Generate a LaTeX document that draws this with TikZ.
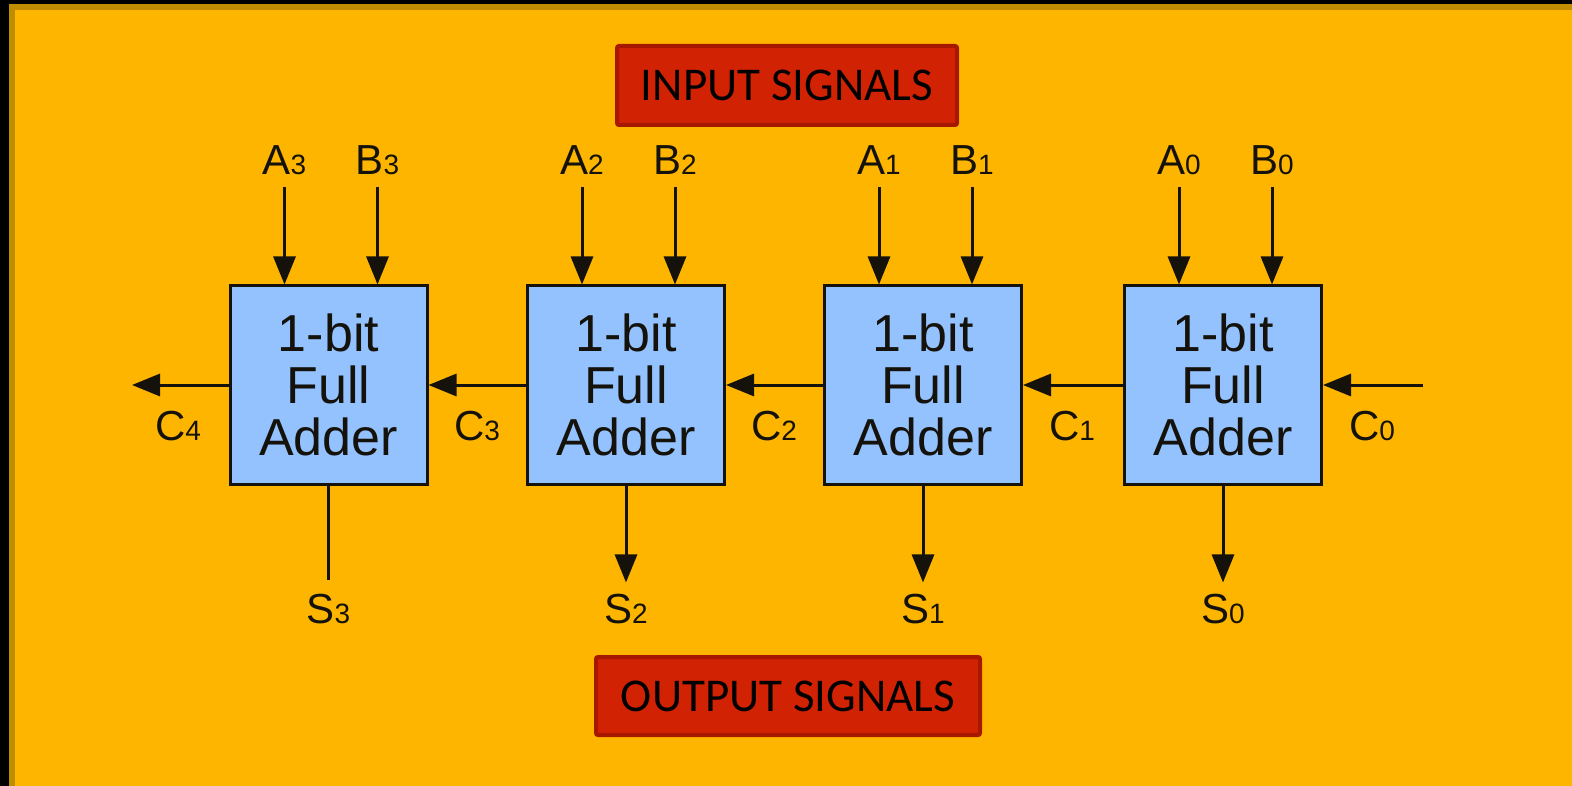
\documentclass[tikz,border=0pt]{standalone}
\usepackage{fontspec}
\setmainfont{Liberation Sans}
\newfontfamily\cali{Carlito}
\usetikzlibrary{arrows.meta}
\definecolor{bgorange}{RGB}{253,181,0}
\definecolor{bgedge}{RGB}{192,140,0}
\definecolor{redfill}{RGB}{210,34,4}
\definecolor{rededge}{RGB}{166,24,0}
\definecolor{adderblue}{RGB}{148,194,255}
\definecolor{ink}{RGB}{20,18,10}
\newcommand\sbs[1]{{\fontsize{28}{28}\selectfont #1}}
\tikzset{
  adder/.style={draw=ink, line width=3pt, fill=adderblue, minimum width=197pt, minimum height=198pt,
    inner sep=0pt, align=center, font=\fontsize{52}{52}\selectfont, text=ink},
  sig/.style={inner sep=0pt, anchor=base, font=\fontsize{42}{42}\selectfont, text=ink},
  wire/.style={draw=ink, line width=3pt},
  arr/.style={wire, -{Triangle[length=28pt,width=22pt]}},
  redbox/.style={draw=rededge, line width=4pt, fill=redfill, rounded corners=2pt, inner sep=0pt,
    font=\cali\fontsize{47}{47}\selectfont, text=black}
}
\begin{document}
\begin{tikzpicture}[x=1pt,y=-1pt]
\useasboundingbox (0,0) rectangle (1572,786);
\clip (0,0) rectangle (1572,786);
\fill[black] (0,0) rectangle (1572,786);
\draw[bgedge, line width=6pt, fill=bgorange] (12,7) rectangle (1600,820);

% title boxes
\node[redbox, minimum width=340pt, minimum height=79pt] (inp) at (787,85.5) {INPUT SIGNALS};
\node[redbox, minimum width=384pt, minimum height=78pt] (outp) at (788,696) {OUTPUT SIGNALS};

% adders
\node[adder] (fa3) at (328.5,385) {1-bit\\Full\\Adder};
\node[adder] (fa2) at (626,385) {1-bit\\Full\\Adder};
\node[adder] (fa1) at (923,385) {1-bit\\Full\\Adder};
\node[adder] (fa0) at (1223,385) {1-bit\\Full\\Adder};

% input labels
\node[sig] (a3) at (284.5,175) {A\sbs{3}};
\node[sig] (b3) at (377.5,175) {B\sbs{3}};
\node[sig] (a2) at (582,175) {A\sbs{2}};
\node[sig] (b2) at (675,175) {B\sbs{2}};
\node[sig] (a1) at (879,175) {A\sbs{1}};
\node[sig] (b1) at (972,175) {B\sbs{1}};
\node[sig] (a0) at (1179,175) {A\sbs{0}};
\node[sig] (b0) at (1272,175) {B\sbs{0}};

\foreach \l/\f in {a3/fa3,b3/fa3,a2/fa2,b2/fa2,a1/fa1,b1/fa1,a0/fa0,b0/fa0}
  \draw[arr] ([yshift=-12pt]\l.base) -- (\l.base |- \f.north);

% carries
\coordinate (c4end) at (132,385);
\coordinate (c0start) at (1423,385);
\draw[arr] (fa3.west) -- (c4end);
\draw[arr] (fa2.west) -- (fa3.east);
\draw[arr] (fa1.west) -- (fa2.east);
\draw[arr] (fa0.west) -- (fa1.east);
\draw[arr] (c0start) -- (fa0.east);
\node[sig] (c4) at (178,440) {C\sbs{4}};
\node[sig] (c3) at (477,440) {C\sbs{3}};
\node[sig] (c2) at (774,440) {C\sbs{2}};
\node[sig] (c1) at (1072,440) {C\sbs{1}};
\node[sig] (c0) at (1372,440) {C\sbs{0}};

% sums
\node[sig] (s3) at (328.5,623) {S\sbs{3}};
\node[sig] (s2) at (626,623) {S\sbs{2}};
\node[sig] (s1) at (923,623) {S\sbs{1}};
\node[sig] (s0) at (1223,623) {S\sbs{0}};
\draw[wire] (fa3.south) -- ([yshift=13pt]s3.north);
\draw[arr] (fa2.south) -- ([yshift=11pt]s2.north);
\draw[arr] (fa1.south) -- ([yshift=11pt]s1.north);
\draw[arr] (fa0.south) -- ([yshift=11pt]s0.north);
\end{tikzpicture}
\end{document}
